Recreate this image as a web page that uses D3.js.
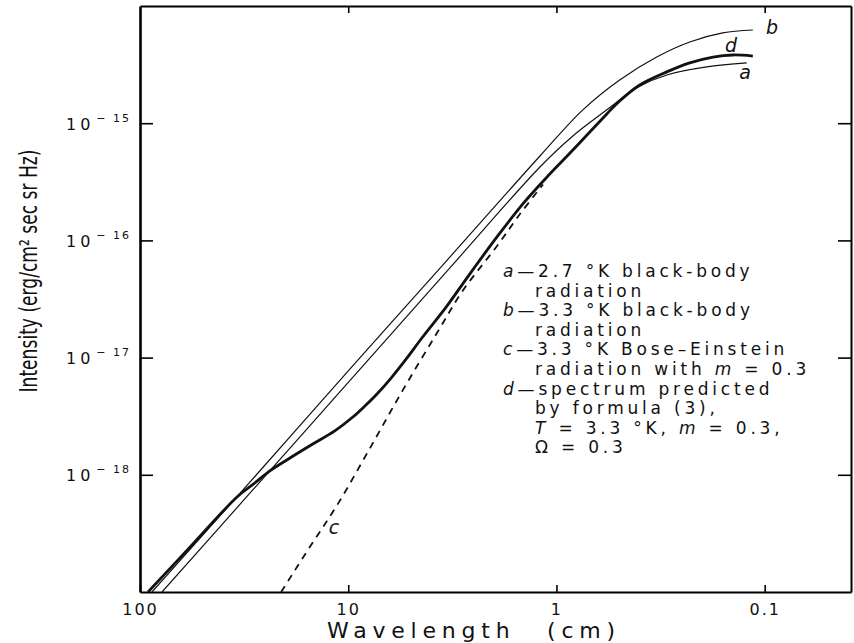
<!DOCTYPE html>
<html>
<head>
<meta charset="utf-8">
<script src="https://cdn.jsdelivr.net/npm/d3@7"></script>
<style>
body { margin: 0; background: #fff; }
svg text { font-family: "DejaVu Sans", "Lato", sans-serif; fill: #111; }
</style>
</head>
<body>
<svg id="chart" width="854" height="643"></svg>
<script>
// values: wavelength (cm) and intensity (erg/cm2 sec sr Hz)
var wavelengthA = [78.4, 29.6, 9.8, 3.25, 1.20, 0.834, 0.573, 0.497, 0.398, 0.295, 0.190, 0.122];
var intensityA  = [1.0e-19, 7.0e-19, 6.38e-18, 5.82e-17, 4.23e-16, 7.78e-16, 1.30e-15, 1.58e-15, 2.07e-15, 2.58e-15, 3.02e-15, 3.27e-15];

var wavelengthB = [87.6, 29.6, 9.8, 3.25, 1.20, 0.747, 0.497, 0.330, 0.229, 0.159, 0.114];
var intensityB  = [1.0e-19, 8.69e-19, 8.0e-18, 7.2e-17, 5.25e-16, 1.30e-15, 2.34e-15, 3.67e-15, 4.93e-15, 5.89e-15, 6.24e-15];

var wavelengthC = [21.0, 15.3, 11.3, 7.86, 5.46, 3.75, 2.81, 1.93, 1.50, 1.16];
var intensityC  = [1.0e-19, 2.42e-19, 5.52e-19, 1.69e-18, 5.30e-18, 1.62e-17, 3.75e-17, 8.95e-17, 1.67e-16, 3.0e-16];

var wavelengthD = [91.5, 55.7, 34.2, 28.1, 23.8, 19.05, 14.8, 11.6, 9.50, 8.32, 7.20, 6.17, 5.22, 4.43, 3.36, 2.61, 1.93, 1.45, 1.10, 0.834, 0.573, 0.497, 0.398, 0.295, 0.229, 0.177, 0.142, 0.114];
var intensityD  = [1.0e-19, 2.57e-19, 6.47e-19, 8.51e-19, 1.08e-18, 1.39e-18, 1.83e-18, 2.37e-18, 3.11e-18, 3.86e-18, 4.99e-18, 6.82e-18, 9.93e-18, 1.47e-17, 2.75e-17, 5.16e-17, 1.07e-16, 2.05e-16, 3.54e-16, 5.90e-16, 1.20e-15, 1.55e-15, 2.12e-15, 2.74e-15, 3.27e-15, 3.67e-15, 3.82e-15, 3.74e-15];

var xTicks = [100, 10, 1, 0.1];
var xTickLabels = ["100", "10", "1", "0.1"];
var yTicks = [1e-15, 1e-16, 1e-17, 1e-18];
var yTickExponents = ["15", "16", "17", "18"];

var legendLines = [
	[{t: "a", i: true}, {t: "\u20142.7 \u00b0K black-body"}],
	[{t: "radiation"}],
	[{t: "b", i: true}, {t: "\u20143.3 \u00b0K black-body"}],
	[{t: "radiation"}],
	[{t: "c", i: true}, {t: "\u20143.3 \u00b0K Bose\u2013Einstein"}],
	[{t: "radiation with "}, {t: "m", i: true}, {t: " = 0.3"}],
	[{t: "d", i: true}, {t: "\u2014spectrum predicted"}],
	[{t: "by formula (3),"}],
	[{t: "T", i: true}, {t: " = 3.3 \u00b0K, "}, {t: "m", i: true}, {t: " = 0.3,"}],
	[{t: "\u03a9 = 0.3"}]
];

var LEFT = 140, RIGHT = 851, TOP = 6, BOTTOM = 592;

var svg = d3.select("#chart");

var x = d3.scaleLog().domain([100, 0.0385]).range([LEFT, RIGHT]);
var y = d3.scaleLog().domain([1e-19, 1e-14]).range([BOTTOM, TOP]);

function zipSeries(ws, is){
	return ws.map(function(w, k){ return {w: w, v: is[k]}; });
}

svg.append("defs").append("clipPath")
	.attr("id", "plot-clip")
	.append("rect")
	.attr("x", LEFT).attr("y", TOP)
	.attr("width", RIGHT - LEFT).attr("height", BOTTOM - TOP);

// axes (ticks point inward on all four sides)
var leftAxis = svg.append("g")
	.attr("transform", "translate(" + LEFT + ",0)")
	.call(d3.axisLeft(y).tickValues(yTicks).tickSizeInner(-13).tickSizeOuter(0).tickFormat(""));
leftAxis.select(".domain").attr("stroke-width", 2.6);

var rightAxis = svg.append("g")
	.attr("transform", "translate(" + RIGHT + ",0)")
	.call(d3.axisRight(y).tickValues(yTicks).tickSizeInner(-13).tickSizeOuter(0).tickFormat(""));
rightAxis.select(".domain").attr("stroke-width", 2);

var bottomAxis = svg.append("g")
	.attr("transform", "translate(0," + BOTTOM + ")")
	.call(d3.axisBottom(x).tickValues(xTicks).tickSizeInner(-7).tickSizeOuter(0)
		.tickFormat(function(d, i){ return xTickLabels[i]; }));
bottomAxis.select(".domain").attr("stroke-width", 2);
bottomAxis.selectAll(".tick text")
	.attr("y", 12)
	.style("font-size", "16px")
	.style("letter-spacing", "2px");

var topAxis = svg.append("g")
	.attr("transform", "translate(0," + TOP + ")")
	.call(d3.axisTop(x).tickValues(xTicks.slice(1)).tickSizeInner(-7).tickSizeOuter(0).tickFormat(""));
topAxis.select(".domain").attr("stroke-width", 2);

svg.selectAll(".tick line").attr("stroke-width", 1.6);

// 10^-n labels on the left
var yLabels = leftAxis.selectAll(".tick")
	.append("text")
	.attr("x", -74)
	.attr("y", 6)
	.attr("text-anchor", "start")
	.style("font-size", "16px")
	.style("letter-spacing", "4px");
yLabels.append("tspan").text("10");
yLabels.append("tspan")
	.attr("dx", 2)
	.attr("dy", -8)
	.style("font-size", "11px")
	.style("letter-spacing", "2px")
	.text(function(d, i){ return "\u2212 " + yTickExponents[i]; });

// axis titles
var xTitle = svg.append("text")
	.attr("x", 327)
	.attr("y", 638)
	.attr("text-anchor", "start")
	.style("font-size", "22px")
	.style("letter-spacing", "5.8px");
xTitle.append("tspan").text("Wavelength");
xTitle.append("tspan").attr("x", 547).text("(cm)");

svg.append("text")
	.attr("transform", "translate(37,271) rotate(-90)")
	.attr("text-anchor", "middle")
	.attr("textLength", 243)
	.attr("lengthAdjust", "spacingAndGlyphs")
	.style("font-family", "'Liberation Sans Narrow', 'DejaVu Sans Condensed', sans-serif")
	.style("font-size", "25px")
	.text("Intensity (erg/cm\u00b2 sec sr Hz)");

// curves
var line = d3.line()
	.x(function(d){ return x(d.w); })
	.y(function(d){ return y(d.v); })
	.curve(d3.curveCatmullRom.alpha(0.5));

var curves = [
	{name: "a", data: zipSeries(wavelengthA, intensityA), width: 1.2, dash: null},
	{name: "b", data: zipSeries(wavelengthB, intensityB), width: 1.2, dash: null},
	{name: "c", data: zipSeries(wavelengthC, intensityC), width: 1.8, dash: "7,6"},
	{name: "d", data: zipSeries(wavelengthD, intensityD), width: 2.8, dash: null}
];

svg.append("g")
	.attr("clip-path", "url(#plot-clip)")
	.selectAll("path.curve")
	.data(curves)
	.enter()
	.append("path")
	.attr("class", "curve")
	.attr("fill", "none")
	.attr("stroke", "#111")
	.attr("stroke-width", function(d){ return d.width; })
	.attr("stroke-dasharray", function(d){ return d.dash; })
	.attr("d", function(d){ return line(d.data); });

// curve letters
var curveLabels = [
	{t: "b", x: 772, y: 34},
	{t: "d", x: 731, y: 52},
	{t: "a", x: 745, y: 79},
	{t: "c", x: 334, y: 534}
];
svg.selectAll("text.curve-label")
	.data(curveLabels)
	.enter()
	.append("text")
	.attr("class", "curve-label")
	.attr("x", function(d){ return d.x; })
	.attr("y", function(d){ return d.y; })
	.attr("text-anchor", "middle")
	.style("font-size", "19px")
	.style("font-style", "italic")
	.text(function(d){ return d.t; });

// legend text block
var legend = svg.append("g")
	.attr("transform", "translate(503,277)");
legend.selectAll("text")
	.data(legendLines)
	.enter()
	.append("text")
	.attr("x", function(d, i){ return (i % 2 == 0 && i < 8) ? 0 : 32; })
	.attr("y", function(d, i){ return i * 19.6; })
	.style("font-size", "17px")
	.style("letter-spacing", "3.8px")
	.each(function(parts){
		var t = d3.select(this);
		parts.forEach(function(p){
			t.append("tspan")
				.style("font-style", p.i ? "italic" : "normal")
				.text(p.t);
		});
	});
</script>
</body>
</html>
